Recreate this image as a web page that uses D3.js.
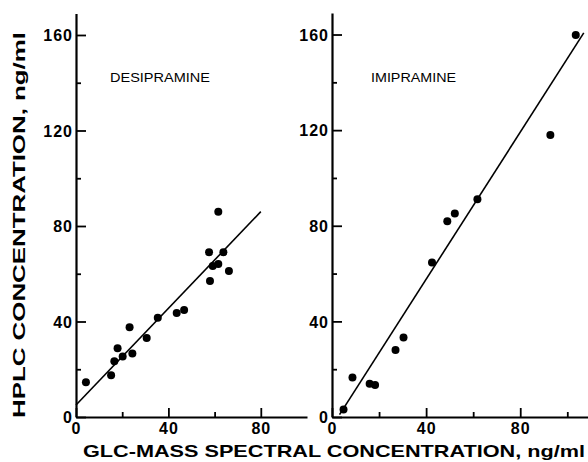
<!DOCTYPE html>
<html><head><meta charset="utf-8">
<script src="https://cdn.jsdelivr.net/npm/d3@7/dist/d3.min.js"></script>
<style>
html,body{margin:0;padding:0;background:#fff;}
svg{display:block;font-family:"Liberation Sans",Arial,Helvetica,sans-serif;}
</style></head>
<body>
<svg id="chart" width="588" height="462"></svg>
<script>
// Desipramine panel
const desiX = [4.3, 15.2, 16.6, 18.0, 20.2, 23.2, 24.4, 30.6, 35.4, 43.6, 46.8, 57.6, 58.0, 59.2, 61.6, 63.8, 66.2, 61.6];
const desiY = [14.6, 17.5, 23.4, 28.8, 25.3, 37.6, 26.6, 33.1, 41.6, 43.6, 44.8, 69.0, 57.0, 63.2, 64.1, 69.0, 61.2, 86.0];
const desiFitX = [0, 80];
const desiFitY = [5, 86];
// Imipramine panel
const imiX = [4.9, 8.7, 16.0, 18.3, 27.0, 30.4, 42.5, 49.0, 52.2, 61.8, 92.8, 103.6];
const imiY = [3.1, 16.5, 13.9, 13.4, 28.0, 33.3, 64.6, 81.9, 85.1, 91.1, 118, 159.8];
const imiFitX = [3.2, 107.0];
const imiFitY = [1, 160.7];
// ticks
const yMajor = [0, 40, 80, 120, 160];
const yMinor = [20, 60, 100, 140];
const xMajor = [0, 40, 80];
const xMinorL = [20, 60];
const xMinorR = [20, 60, 100];
const panelTitles = ["DESIPRAMINE", "IMIPRAMINE"];
const xTitle = "GLC-MASS SPECTRAL CONCENTRATION, ng/ml";
const yTitle = "HPLC CONCENTRATION, ng/ml";

const svg = d3.select("#chart");

const panels = [
  {x: d3.scaleLinear([0, 100], [76, 307]), y: d3.scaleLinear([0, 169], [417, 13.5]),
   xs: desiX, ys: desiY, fx: desiFitX, fy: desiFitY, minor: xMinorL, title: panelTitles[0], tx: 110, tlen: 100},
  {x: d3.scaleLinear([0, 108.8], [332, 588]), y: d3.scaleLinear([0, 169], [417, 13]),
   xs: imiX, ys: imiY, fx: imiFitX, fy: imiFitY, minor: xMinorR, title: panelTitles[1], tx: 371, tlen: 85}
];

panels.forEach(p => {
  const g = svg.append("g");
  const x0 = p.x.range()[0], y0 = p.y.range()[0];
  const ya = g.append("g").attr("transform", `translate(${x0},0)`)
    .call(d3.axisLeft(p.y).tickValues(yMajor).tickSize(-10).tickSizeOuter(0).tickPadding(3).tickFormat(d3.format("d")));
  g.append("g").attr("transform", `translate(${x0},0)`)
    .call(d3.axisLeft(p.y).tickValues(yMinor).tickSize(-5).tickSizeOuter(0).tickFormat(""))
    .select(".domain").remove();
  const xa = g.append("g").attr("transform", `translate(0,${y0})`)
    .call(d3.axisBottom(p.x).tickValues(xMajor).tickSize(-9).tickSizeOuter(0).tickPadding(6).tickFormat(d3.format("d")));
  g.append("g").attr("transform", `translate(0,${y0})`)
    .call(d3.axisBottom(p.x).tickValues(p.minor).tickSize(-5).tickSizeOuter(0).tickFormat(""))
    .select(".domain").remove();

  g.selectAll(".domain").attr("stroke", "#000").attr("stroke-width", 2.2);
  g.selectAll(".tick line").attr("stroke", "#000").attr("stroke-width", 1.8);
  g.selectAll(".tick text").attr("fill", "#000")
    .style("font-size", "16px").style("font-weight", "bold")
    .style("letter-spacing", "1px")
    .style("font-family", '"Liberation Sans",Arial,sans-serif');
  ya.selectAll(".tick text").attr("dy", "0.36em");

  g.append("line")
    .attr("x1", p.x(p.fx[0])).attr("y1", p.y(p.fy[0]))
    .attr("x2", p.x(p.fx[1])).attr("y2", p.y(p.fy[1]))
    .attr("stroke", "#000").attr("stroke-width", 1.6);

  g.selectAll("circle.pt").data(d3.range(p.xs.length)).join("circle")
    .attr("class", "pt")
    .attr("cx", i => p.x(p.xs[i])).attr("cy", i => p.y(p.ys[i]))
    .attr("r", 4).attr("fill", "#000");

  g.append("text").attr("x", p.tx).attr("y", 82)
    .attr("textLength", p.tlen).attr("lengthAdjust", "spacingAndGlyphs")
    .style("font-size", "13px").style("font-weight", "normal")
    .text(p.title);
});

svg.append("text").attr("x", 83).attr("y", 457)
  .attr("textLength", 502).attr("lengthAdjust", "spacingAndGlyphs")
  .style("font-size", "17px").style("font-weight", "bold")
  .text(xTitle);

svg.append("text").attr("transform", "translate(25,418) rotate(-90)")
  .attr("textLength", 386).attr("lengthAdjust", "spacingAndGlyphs")
  .style("font-size", "16px").style("font-weight", "bold")
  .text(yTitle);
</script>
</body></html>
